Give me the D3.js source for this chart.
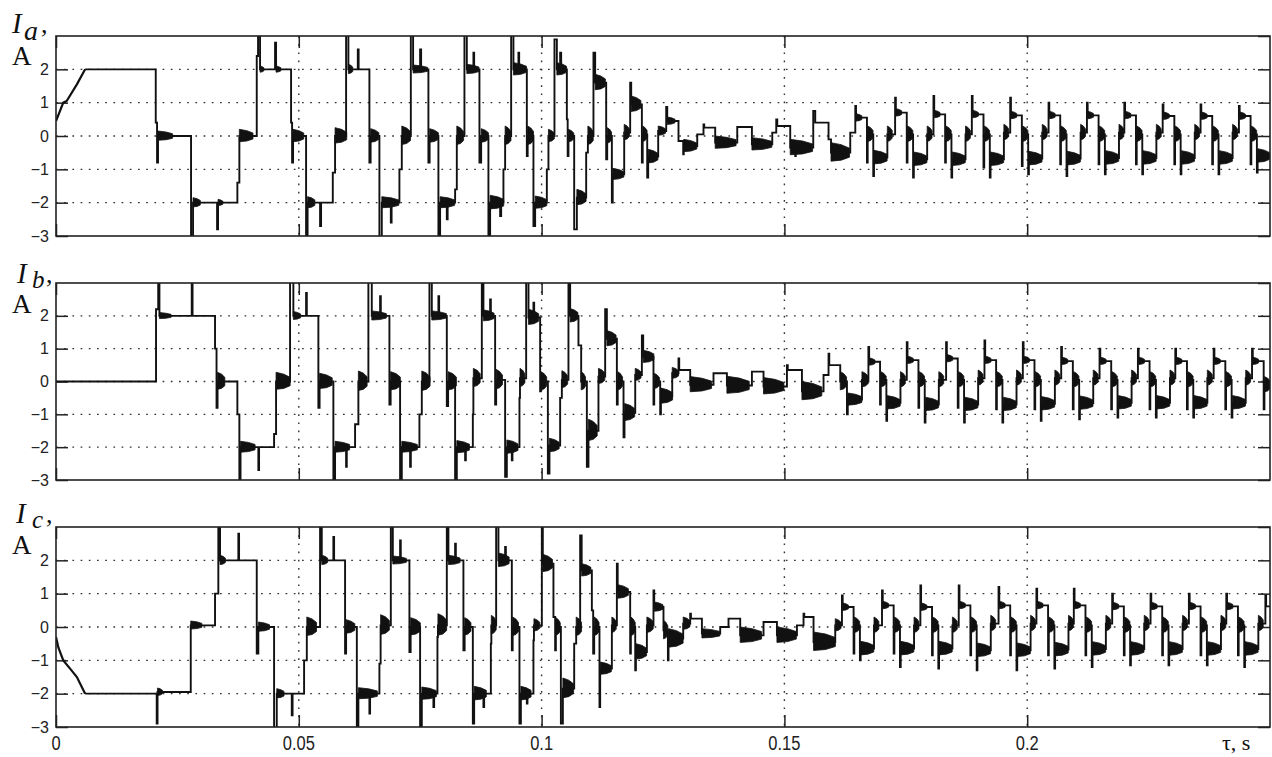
<!DOCTYPE html>
<html>
<head>
<meta charset="utf-8">
<script src="https://cdnjs.cloudflare.com/ajax/libs/d3/7.8.5/d3.min.js"></script>
<style>
  body { margin: 0; background: #fff; }
  .grid line { stroke: #333; stroke-width: 1.4; stroke-dasharray: 1.7 6.5; }
  .tick line { stroke: #222; stroke-width: 1.5; }
  .ylab text { font-family: "Liberation Sans", Arial, sans-serif; font-size: 16px; fill: #222; }
  .xlab { font-family: "Liberation Sans", Arial, sans-serif; font-size: 16.5px; fill: #222; }
  .serif { font-family: "Liberation Serif", "Times New Roman", serif; fill: #111; }
</style>
</head>
<body>
<div class="container"></div>
<script>
// axes
var xTicks = [0, 0.05, 0.1, 0.15, 0.2];
var yTicks = [-3, -2, -1, 0, 1, 2];
var yGrid = [-2, -1, 0, 1, 2];
var phaseNames = ["a", "b", "c"];

// phase currents, time in ms, value in A
// [t, i] or [t, i, ringLen(ms), ringAmp(A)] for the dense ringing after a step
var iaRamp = [[0, 0.45], [1.5, 1.0], [2.2, 1.05], [4.3, 1.55], [6.0, 2.0]];
var icRamp = [[0, -0.3], [0.5, -0.62], [1.5, -1.0], [2.9, -1.25], [4.3, -1.5], [6.0, -2.0]];

var ia = [
  [6.0,2.0],[20.54,0.4],[20.81,-0.8],[21.01,0,3.0,0.15],[27.81,-3.2],[28.22,-2.0,1.5,0.15],
  [33.17,-2.8],[33.37,-2.0,1.0,0.1],[37.35,-1.4],[37.76,0,2.8,0.2],[41.34,2.4],[41.61,3.2],
  [42.02,2.0,0.8,0.1],[45.11,2.8],[45.32,2.0,1.0,0.1],[48.41,0.4],[48.62,-0.8],[48.82,0,2.2,0.2],
  [51.5,-3.2],[51.81,-2.0,1.5,0.18],[54.38,-2.7],[54.59,-2.0],[57.0,-1.1],[57.47,0,2.4,0.25],
  [59.74,3.2],[60.21,2.0,0.9,0.15],[62.15,2.6],[62.32,2.0],[64.54,-0.8],[64.79,0,1.7,0.22],
  [66.6,-3.2],[67.09,-2.0,3.5,0.18],[68.95,-2.6],[69.11,-2.0],[70.72,-1.0],[71.21,0,1.8,0.3],
  [73.07,3.2],[73.54,2.0,3.0,0.13],[74.98,2.6],[75.19,2.0],[76.69,-0.8],[76.94,0,1.8,0.22],
  [78.75,-3.2],[79.1,-2.0,3.0,0.18],[80.48,-2.5],[80.65,-2.0],[82.19,-1.6],[82.54,0,1.4,0.3],
  [84.11,3.2],[84.6,2.0,2.5,0.15],[85.96,2.5],[86.11,2.0],[87.2,-0.8],[87.55,0,1.5,0.22],
  [89.05,-3.0],[89.4,-2.0,2.8,0.22],[91.46,-2.4],[91.67,-2.0],[92.14,-1.0],[92.49,0,1.2,0.3],
  [93.73,3.2],[94.2,2.0,2.7,0.2],[95.23,2.5],[95.38,2.0],[96.96,-0.6],[97.13,0,1.2,0.3],
  [98.32,-2.7],[98.67,-2.0,2.4,0.2],[101.08,-1.0],[101.41,0,1.2,0.2],[102.65,2.9],[103.14,2.0,2.0,0.2],
  [103.82,2.5],[104.03,2.0],[105.2,0.5],[105.37,-0.6],[105.53,0,1.1,0.2],[106.71,-2.8],
  [107.26,-1.85,1.9,0.25],[109.18,-0.5],[109.53,0,1.1,0.3],[110.68,2.5],[111.03,1.6,2.1,0.25],
  [113.3,-0.7],[113.51,0,0.9,0.25],[114.47,-2.0],[114.64,-1.15,2.3,0.18],[117.01,0.1,1.1,0.25],
  [118.24,1.6],[118.45,0.95,2.0,0.25],[120.65,-0.8],[120.82,0.05,0.9,0.25],[121.75,-1.25],
  [121.95,-0.62,2.0,0.22],[124.01,0.15,1.5,0.15],[125.66,0.87],[125.87,0.45,1.6,0.12],
  [128.19,-0.15],[129.16,-0.55],[129.27,-0.3,2.7,0.2],[132.05,0.05],[133.34,0.35],[133.49,0.25],
  [135.75,-0.2,4.3,0.2],[140.29,0.27],[143.31,-0.25,4.1,0.2],[147.5,0.1],[148.32,0.5],[148.53,0.3],
  [151.2,-0.35,4.6,0.25],[152.23,-0.6],[152.34,-0.35],[155.94,0.75],[156.35,0.4],[159.09,-0.1],
  [159.6,-0.5,3.8,0.3],[163.56,0.1],
  [164.6,0.9],[164.75,0.55,1.2,0.12],[167.0,-0.8],[167.15,0.05,1.1,0.25],[168.3,-1.2],[168.45,-0.65,2.7,0.22],[171.2,0.05,1.0,0.25],
  [172.8,1.15],[172.95,0.7,1.2,0.12],[175.2,-0.8],[175.35,0.05,1.1,0.25],[176.5,-1.25],[176.65,-0.7,2.7,0.22],[179.4,0.05,1.0,0.25],
  [180.7,1.2],[180.85,0.65,1.2,0.12],[183.1,-0.8],[183.25,0.05,1.1,0.25],[184.4,-1.25],[184.55,-0.7,2.7,0.22],[187.3,0.05,1.0,0.25],
  [188.6,1.2],[188.75,0.65,1.2,0.12],[191.0,-0.95],[191.15,0.05,1.1,0.25],[192.3,-1.25],[192.45,-0.7,2.7,0.22],[195.2,0.1,1.0,0.25],
  [196.5,1.15],[196.65,0.62,1.2,0.12],[198.9,-0.9],[199.05,0.05,1.1,0.25],[200.2,-1.15],[200.35,-0.68,2.7,0.22],[203.1,0.1,1.0,0.25],
  [204.4,1.0],[204.55,0.62,1.2,0.12],[206.8,-0.85],[206.95,0.05,1.1,0.25],[208.1,-1.2],[208.25,-0.68,2.7,0.22],[211.0,0.1,1.0,0.25],
  [212.3,1.0],[212.45,0.62,1.2,0.12],[214.7,-0.85],[214.85,0.05,1.1,0.25],[216.0,-1.15],[216.15,-0.66,2.7,0.22],[218.9,0.1,1.0,0.25],
  [220.0,1.0],[220.15,0.62,1.2,0.12],[222.4,-0.85],[222.55,0.05,1.1,0.25],[223.7,-1.15],[223.85,-0.66,2.7,0.22],[226.6,0.1,1.0,0.25],
  [227.9,0.95],[228.05,0.6,1.2,0.12],[230.3,-0.85],[230.45,0.05,1.1,0.25],[231.6,-1.15],[231.75,-0.66,2.7,0.22],[234.5,0.1,1.0,0.25],
  [235.7,0.95],[235.85,0.6,1.2,0.12],[238.1,-0.85],[238.25,0.05,1.1,0.25],[239.4,-1.15],[239.55,-0.66,2.7,0.22],[242.3,0.1,1.0,0.25],
  [243.6,0.9],[243.75,0.6,1.2,0.12],[246.0,-0.85],[246.15,0.05,1.1,0.25],[247.3,-1.1],[247.45,-0.6,2.5,0.22],[250,-0.6]
];

var ib = [
  [0,0],[20.6,2.2],[21.05,3.2],[21.3,2.0,2.4,0.1],[27.95,3.2],[28.12,2.0],[32.75,1.0],[33.06,-0.8],
  [33.27,0,1.5,0.28],[37.35,-1.0],[37.76,-3.2],[38.0,-2.0,3.0,0.18],[41.67,-2.7],[41.82,-2.0],
  [44.91,-1.6],[45.32,0,2.9,0.28],[48.2,3.2],[48.88,2.0,1.5,0.13],[51.5,2.7],[51.65,2.0],
  [54.03,-0.8],[54.28,0,2.6,0.25],[57.12,-3.2],[57.47,-2.0,3.0,0.18],[59.74,-2.6],[59.88,-2.0],
  [61.59,-1.3],[62.27,0,1.8,0.32],[64.33,3.2],[65.03,2.0,3.0,0.15],[66.74,2.6],[66.89,2.0],
  [68.66,-0.7],[68.91,0,2.0,0.3],[70.86,-3.2],[71.21,-2.0,3.2,0.18],[72.92,-2.6],[73.07,-2.0],
  [74.84,-1.0],[75.33,0,1.7,0.32],[76.9,3.2],[77.39,2.0,3.0,0.15],[78.75,2.6],[78.9,2.0],
  [80.48,-0.75],[80.75,0,1.7,0.3],[82.19,-3.2],[82.54,-2.0,2.6,0.2],[84.25,-2.4],[84.4,-2.0],
  [85.84,-1.0],[85.95,0.1,1.4,0.3],[87.69,3.2],[88.02,2.0,2.2,0.18],[89.4,2.5],[89.55,2.0],
  [90.43,-0.7],[90.64,0.05,1.3,0.32],[92.49,-2.9],[92.84,-2.0,2.3,0.22],[93.87,-2.4],[94.0,-2.0],
  [95.44,-0.5],[95.55,0.1,1.0,0.3],[96.82,3.2],[97.3,1.95,2.1,0.25],[98.32,2.4],[98.47,1.95],
  [99.7,-0.3],[99.85,0,1.2,0.3],[101.29,-2.8],[101.62,-1.95,2.0,0.22],[103.82,-0.5],[104.17,0.05,1.2,0.28],
  [105.53,3.2],[105.88,2.0,1.6,0.22],[107.59,1.1],[108.15,0,0.9,0.3],[109.32,-2.6],[109.65,-1.5,1.8,0.35],
  [111.71,0.15,1.3,0.25],[113.09,2.2],[113.44,1.3,1.9,0.25],[115.5,-0.7],[115.67,0,1.0,0.3],
  [116.87,-1.7],[117.07,-0.95,2.1,0.28],[119.28,0.2,1.2,0.2],[120.65,1.4],[120.92,0.75,2.2,0.2],
  [123.04,-0.7],[123.19,0,1.1,0.25],[124.42,-1.0],[124.57,-0.45,2.4,0.25],[126.9,0.25,1.3,0.18],
  [128.19,0.7],[128.34,0.35],[130.6,-0.1,4.4,0.25],[135.4,0.25],[138.16,-0.12,4.6,0.28],[143.31,0.3],
  [145.7,-0.15,4.2,0.27],[150.52,0.5],[150.69,0.35],[153.61,-0.3,4.1,0.3],[158.06,0.2],[159.09,0.85],
  [159.24,0.5],[161.5,0,1.3,0.3],[162.88,-1.0],[163.05,-0.55,2.9,0.2],[165.97,0.05,1.3,0.25],
  [167.3,1.05],[167.45,0.6,1.2,0.12],[169.7,-0.7],[169.85,0.05,1.1,0.25],[171.0,-1.2],[171.15,-0.65,2.7,0.22],[173.9,0.05,1.0,0.25],
  [175.2,1.2],[175.35,0.65,1.2,0.12],[177.6,-0.8],[177.75,0.05,1.1,0.25],[178.9,-1.25],[179.05,-0.7,2.7,0.22],[181.8,0.05,1.0,0.25],
  [183.3,1.2],[183.45,0.7,1.2,0.12],[185.7,-0.8],[185.85,0.05,1.1,0.25],[187.0,-1.25],[187.15,-0.7,2.7,0.22],[189.9,0.1,1.0,0.25],
  [191.2,1.25],[191.35,0.65,1.2,0.12],[193.6,-0.85],[193.75,0.05,1.1,0.25],[194.9,-1.25],[195.05,-0.7,2.7,0.22],[197.8,0.1,1.0,0.25],
  [199.1,1.2],[199.25,0.65,1.2,0.12],[201.5,-0.85],[201.65,0.05,1.1,0.25],[202.8,-1.2],[202.95,-0.68,2.7,0.22],[205.7,0.1,1.0,0.25],
  [207.0,1.05],[207.15,0.62,1.2,0.12],[209.4,-0.85],[209.55,0.05,1.1,0.25],[210.7,-1.15],[210.85,-0.66,2.7,0.22],[213.6,0.1,1.0,0.25],
  [214.9,1.0],[215.05,0.62,1.2,0.12],[217.3,-0.85],[217.45,0.05,1.1,0.25],[218.6,-1.1],[218.75,-0.65,2.7,0.22],[221.5,0.1,1.0,0.25],
  [222.8,1.0],[222.95,0.62,1.2,0.12],[225.2,-0.85],[225.35,0.05,1.1,0.25],[226.5,-1.1],[226.65,-0.65,2.7,0.22],[229.4,0.1,1.0,0.25],
  [230.5,1.0],[230.65,0.62,1.2,0.12],[232.9,-0.85],[233.05,0.05,1.1,0.25],[234.2,-1.1],[234.35,-0.65,2.7,0.22],[237.1,0.1,1.0,0.25],
  [238.4,1.0],[238.55,0.62,1.2,0.12],[240.8,-0.85],[240.95,0.05,1.1,0.25],[242.1,-1.1],[242.25,-0.65,2.7,0.22],[245.0,0.1,1.0,0.25],
  [246.3,1.0],[246.45,0.62,1.2,0.12],[248.7,-0.85],[248.85,-0.1,1.2,0.25],[250,-0.1]
];

var ic = [
  [6.0,-2.0],[20.74,-2.9],[20.91,-1.95,1.0,0.12],[27.75,0.05,2.3,0.13],[32.75,1.0],[33.43,3.2],
  [33.78,2.0,1.1,0.15],[37.55,2.8],[37.7,2.0],[41.34,-0.8],[41.67,0,2.3,0.15],[44.91,-3.2],
  [45.46,-2.0,1.5,0.15],[48.55,-2.65],[48.72,-2.0],[51.09,-1.0],[51.65,0,2.0,0.3],[54.38,3.2],
  [54.73,2.0,1.2,0.15],[57.12,2.7],[57.27,2.0],[59.53,-0.8],[59.74,0,1.8,0.22],[61.95,-3.2],
  [62.27,-2.0,3.9,0.18],[64.54,-2.6],[64.68,-2.0],[66.6,-1.1],[66.85,0.05,1.8,0.32],[68.95,3.2],
  [69.36,2.0,2.8,0.13],[70.86,2.6],[71.0,2.0],[72.78,-0.75],[73.03,0,2.0,0.28],[74.98,-3.2],
  [75.33,-2.0,3.0,0.2],[77.72,-2.4],[77.87,-2.0],[78.55,-0.3],[78.65,0.05,1.8,0.35],[80.48,3.2],
  [80.81,2.0,2.4,0.15],[82.19,2.5],[82.34,2.0],[83.9,-0.7],[84.15,0,1.3,0.28],[85.84,-2.9],
  [86.11,-2.0,2.5,0.22],[88.02,-2.4],[88.17,-2.0],[89.55,-0.5],[89.65,0.05,1.0,0.3],[90.64,3.2],
  [91.11,2.0,2.2,0.22],[92.49,2.4],[92.64,2.0],[93.87,-0.7],[94.04,0,1.2,0.3],[95.44,-2.9],
  [95.73,-2.0,2.1,0.22],[96.96,-2.3],[97.09,-2.0],[98.32,-0.4],[98.42,0.05,1.2,0.2],[100.05,3.2],
  [100.25,1.9,2.0,0.28],[102.44,0.3],[102.79,-0.7],[102.94,0,0.9,0.28],[103.97,-2.9],
  [104.38,-1.85,2.2,0.32],[106.71,-0.5],[107.12,0,1.1,0.3],[107.94,2.75],[108.25,1.7,1.9,0.2],
  [110.35,0.5],[110.62,-0.8],[110.83,0,1.0,0.3],[111.92,-2.4],[112.06,-1.25,2.3,0.2],
  [114.47,0.05,0.9,0.25],[115.5,1.9],[115.67,1.05,2.2,0.22],[118.24,-0.8],[118.38,0,0.9,0.3],
  [119.28,-1.3],[119.42,-0.75,2.2,0.25],[121.68,0.05,1.3,0.25],[123.04,1.1],[123.19,0.6,1.8,0.15],
  [125.1,-0.1,0.9,0.3],[126.01,-1.0],[126.14,-0.35,3.0,0.3],[129.16,0.1,1.4,0.2],[130.6,0.4],
  [130.75,0.25],[133.01,-0.2,3.7,0.15],[136.78,0.0],[138.49,0.25],[140.9,-0.25,4.4,0.25],
  [145.7,0.15],[148.46,-0.25,4.0,0.25],[152.58,0.05],[153.94,0.4],[154.09,0.3],[156.0,-0.45,4.5,0.3],
  [160.47,0.05,1.2,0.2],
  [161.85,0.95],[162.0,0.6,1.2,0.12],[164.25,-0.8],[164.4,0.05,1.1,0.25],[165.55,-1.0],[165.7,-0.65,2.7,0.22],[168.45,0.05,1.0,0.25],
  [170.1,1.1],[170.25,0.65,1.2,0.12],[172.5,-0.8],[172.65,0.05,1.1,0.25],[173.8,-1.2],[173.95,-0.65,2.7,0.22],[176.7,0.05,1.0,0.25],
  [178.0,1.25],[178.15,0.6,1.2,0.12],[180.4,-0.85],[180.55,0.05,1.1,0.25],[181.7,-1.25],[181.85,-0.65,2.7,0.22],[184.6,0.05,1.0,0.25],
  [185.9,1.25],[186.05,0.65,1.2,0.12],[188.3,-0.85],[188.45,0.05,1.1,0.25],[189.6,-1.3],[189.75,-0.7,2.7,0.22],[192.5,0.1,1.0,0.25],
  [194.1,1.2],[194.25,0.65,1.2,0.12],[196.5,-0.85],[196.65,0.05,1.1,0.25],[197.8,-1.3],[197.95,-0.7,2.7,0.22],[200.7,0.1,1.0,0.25],
  [201.9,1.15],[202.05,0.65,1.2,0.12],[204.3,-0.85],[204.45,0.05,1.1,0.25],[205.6,-1.25],[205.75,-0.68,2.7,0.22],[208.5,0.1,1.0,0.25],
  [209.6,1.15],[209.75,0.65,1.2,0.12],[212.0,-0.85],[212.15,0.05,1.1,0.25],[213.3,-1.2],[213.45,-0.66,2.7,0.22],[216.2,0.1,1.0,0.25],
  [217.5,1.0],[217.65,0.62,1.2,0.12],[219.9,-0.85],[220.05,0.05,1.1,0.25],[221.2,-1.15],[221.35,-0.66,2.7,0.22],[224.1,0.1,1.0,0.25],
  [225.4,1.0],[225.55,0.62,1.2,0.12],[227.8,-0.85],[227.95,0.05,1.1,0.25],[229.1,-1.15],[229.25,-0.66,2.7,0.22],[232.0,0.1,1.0,0.25],
  [233.3,1.0],[233.45,0.62,1.2,0.12],[235.7,-0.85],[235.85,0.05,1.1,0.25],[237.0,-1.15],[237.15,-0.66,2.7,0.22],[239.9,0.1,1.0,0.25],
  [241.0,1.0],[241.15,0.62,1.2,0.12],[243.4,-0.85],[243.55,0.05,1.1,0.25],[244.7,-1.2],[244.85,-0.66,2.7,0.22],[247.6,0.1,1.0,0.25],
  [249.05,0.95],[249.2,0.62],[250,0.62]
];

var width = 1272, height = 757;
var left = 56, right = 1270;

// panel boxes and label spots
var panels = [
  {top: 36,  h: 200, steps: ia, ramp: iaRamp, lab: {ix: 12, iy: 33, sx: 24, sy: 40, cx: 41, ay: 65, ax: 12}},
  {top: 283, h: 197, steps: ib, ramp: null,   lab: {ix: 17, iy: 283, sx: 32, sy: 288, cx: 46, ay: 313, ax: 12}},
  {top: 527, h: 200, steps: ic, ramp: icRamp, lab: {ix: 16, iy: 523, sx: 32, sy: 528, cx: 46, ay: 554, ax: 12}}
];

var svg = d3.select("div.container").append("svg")
    .attr("width", width)
    .attr("height", height)
    .style("display", "block");

var x = d3.scaleLinear().domain([0, 0.25]).range([left, right]);

panels.forEach(function(p, k) {
    var y = d3.scaleLinear().domain([-3, 3]).range([p.top + p.h, p.top]);
    var g = svg.append("g");

    g.append("clipPath").attr("id", "clip" + k)
      .append("rect")
        .attr("x", left).attr("y", p.top)
        .attr("width", right - left).attr("height", p.h);

    // dotted grid
    var grid = g.append("g").attr("class", "grid");
    grid.selectAll(".gy").data(yGrid).enter().append("line")
        .attr("x1", left).attr("x2", right)
        .attr("y1", function(d) { return y(d); })
        .attr("y2", function(d) { return y(d); });
    grid.selectAll(".gx").data(xTicks.slice(1)).enter().append("line")
        .attr("y1", p.top).attr("y2", p.top + p.h)
        .attr("x1", function(d) { return x(d); })
        .attr("x2", function(d) { return x(d); });

    // inward ticks, matlab style
    g.append("g").attr("class", "ylab")
        .attr("transform", "translate(" + left + ",0)")
        .call(d3.axisLeft(y).tickValues(yTicks).tickSize(-12).tickPadding(7).tickFormat(d3.format("d")))
        .call(function(s) { s.select(".domain").remove(); });
    g.append("g")
        .attr("transform", "translate(" + right + ",0)")
        .call(d3.axisRight(y).tickValues(yTicks.concat([3])).tickSize(-12).tickFormat(""))
        .call(function(s) { s.select(".domain").remove(); });
    g.append("g")
        .attr("transform", "translate(0," + p.top + ")")
        .call(d3.axisTop(x).tickValues(xTicks).tickSize(-12).tickFormat(""))
        .call(function(s) { s.select(".domain").remove(); });
    g.append("g")
        .attr("transform", "translate(0," + (p.top + p.h) + ")")
        .call(d3.axisBottom(x).tickValues(xTicks).tickSize(-12).tickFormat(""))
        .call(function(s) { s.select(".domain").remove(); });

    var plot = g.append("g").attr("clip-path", "url(#clip" + k + ")");

    // ringing blobs: full height at the step, fading out along the segment
    plot.selectAll(".ring").data(p.steps.filter(function(d) { return d.length > 2; }))
      .enter().append("path")
        .attr("fill", "#111")
        .attr("stroke", "#111").attr("stroke-width", 0.8).attr("stroke-linejoin", "round")
        .attr("d", function(d) {
            var x0 = x(d[0] / 1000), xm = x((d[0] + d[2] * 0.55) / 1000), x1 = x((d[0] + d[2]) / 1000);
            return "M" + x0 + "," + y(d[1] - d[3] * 0.85) + "L" + x0 + "," + y(d[1] + d[3])
                + "L" + xm + "," + y(d[1] + d[3] * 0.8) + "L" + x1 + "," + y(d[1] + d[3] * 0.45)
                + "L" + x1 + "," + y(d[1] - d[3] * 0.45) + "L" + xm + "," + y(d[1] - d[3] * 0.75) + "Z";
        });

    var stepLine = d3.line()
        .x(function(d) { return x(d[0] / 1000); })
        .y(function(d) { return y(d[1]); })
        .curve(d3.curveStepAfter);
    var rampLine = d3.line()
        .x(function(d) { return x(d[0] / 1000); })
        .y(function(d) { return y(d[1]); });

    plot.append("path").datum(p.steps)
        .attr("fill", "none").attr("stroke", "#111").attr("stroke-width", 1.9)
        .attr("d", stepLine);
    if (p.ramp) {
        plot.append("path").datum(p.ramp)
            .attr("fill", "none").attr("stroke", "#111").attr("stroke-width", 2.2)
            .attr("d", rampLine);
    }

    // frame
    g.append("rect")
        .attr("x", left).attr("y", p.top)
        .attr("width", right - left).attr("height", p.h)
        .attr("fill", "none").attr("stroke", "#222").attr("stroke-width", 1.6);

    // I_x, A label
    var L = p.lab;
    g.append("text").attr("class", "serif").attr("x", L.ix).attr("y", L.iy)
        .style("font-size", "29px").style("font-style", "italic").text("I");
    g.append("text").attr("class", "serif").attr("x", L.sx).attr("y", L.sy)
        .style("font-size", k === 0 ? "28px" : "25px").style("font-style", "italic").text(phaseNames[k]);
    g.append("text").attr("class", "serif").attr("x", L.cx).attr("y", L.iy)
        .style("font-size", "26px").text(",");
    g.append("text").attr("class", "serif").attr("x", L.ax).attr("y", L.ay)
        .style("font-size", "27px").text("A");

    // time labels under the last panel
    if (k === panels.length - 1) {
        g.selectAll(".xl").data(xTicks).enter().append("text")
            .attr("class", "xlab")
            .attr("text-anchor", "middle")
            .attr("transform", function(d) { return "translate(" + x(d) + "," + (p.top + p.h + 23) + ") scale(1,1.25)"; })
            .text(function(d) { return String(d); });
    }
});

svg.append("text").attr("class", "serif")
    .attr("x", 1222).attr("y", 750)
    .style("font-size", "22px")
    .text("\u03c4, s");
</script>
</body>
</html>
